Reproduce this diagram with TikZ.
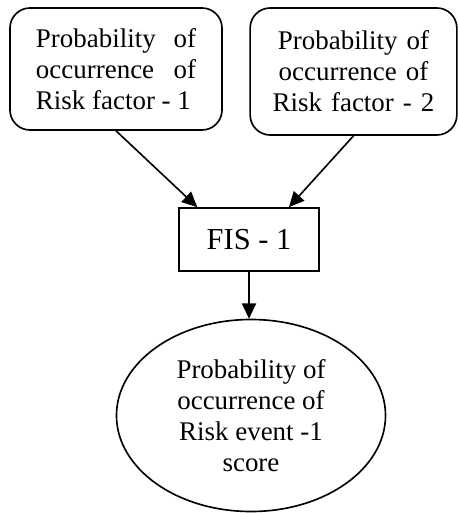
\documentclass[tikz,border=0pt]{standalone}
\usepackage{fontspec}
\setmainfont{Liberation Serif}
\usetikzlibrary{arrows.meta,shapes.geometric}

\begin{document}
\begin{tikzpicture}[x=0.03cm,y=-0.03cm,>={Triangle[length=13pt,width=12pt]},
    line width=1.4pt,
    factorbox/.style={draw,rounded corners=0.6cm,inner sep=0pt,
      font=\fontsize{23}{26.5}\selectfont},
    fisbox/.style={draw,inner sep=0pt,minimum width=4.2cm,minimum height=1.89cm,
      font=\fontsize{26}{30}\selectfont},
    eventnode/.style={draw,ellipse,inner sep=0pt,minimum width=8.07cm,
      minimum height=5.76cm,align=center,font=\fontsize{23}{26.5}\selectfont}]
      \useasboundingbox (0,0) rectangle (458,513);
      \node[factorbox,minimum width=6.36cm,minimum height=3.66cm,
        text width=4.8cm,align=justify] (rf1) at (116,69)
        {Probability of occurrence of Risk factor - 1};
      \node[factorbox,minimum width=6.2cm,minimum height=3.81cm,
        text width=5.6cm,align=center] (rf2) at (353.5,71.5)
        {Probability of\\occurrence of\\Risk factor - 2};
      \node[fisbox] (fis) at (249,239.5) {FIS - 1};
      \node[eventnode] (ev) at (251,415.5)
        {Probability of\\occurrence of\\Risk event -1\\score};
      % arrows into and out of the FIS
      \draw[->] (rf1.south) -- (fis.148);
      \draw[->] (rf2.south) -- (fis.39);
      \draw[->] (fis.south) -- (fis.south |- ev.north);
    \end{tikzpicture}
\end{document}
